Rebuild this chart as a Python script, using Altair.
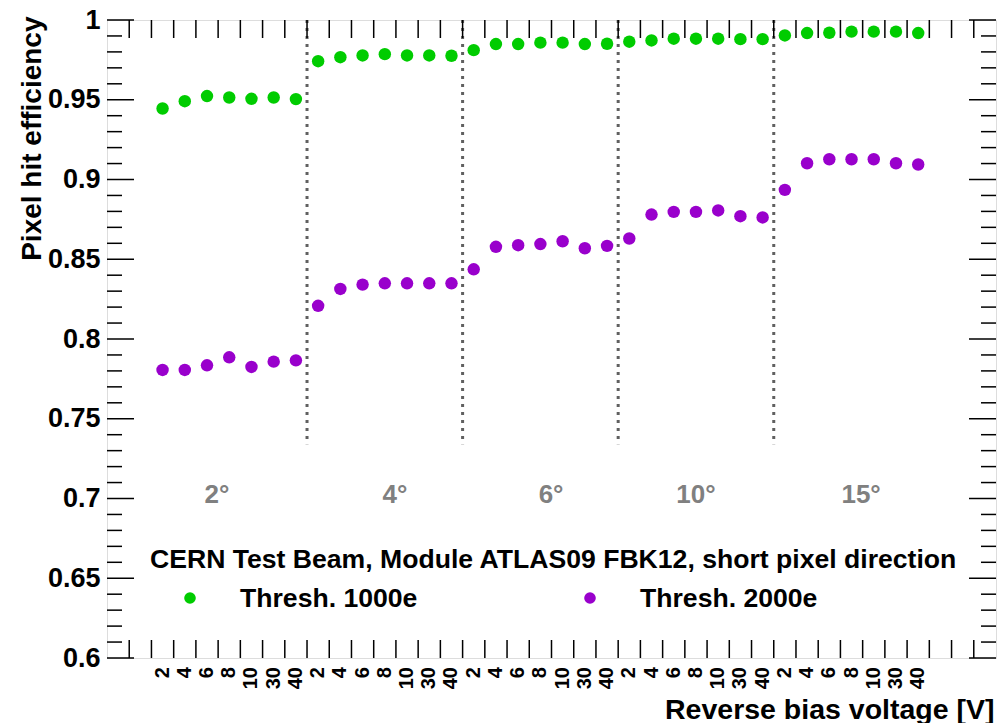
import altair as alt
import pandas as pd

# ---------------- data ----------------
angles = ["2°", "4°", "6°", "10°", "15°"]
voltages = ["2", "4", "6", "8", "10", "30", "40"]
series_names = ["Thresh. 1000e", "Thresh. 2000e"]
series_colors = ["#00cc00", "#9900cc"]

eff_1000 = [0.9445, 0.9491, 0.9523, 0.9514, 0.9506, 0.9514, 0.9504,
            0.9742, 0.9767, 0.9778, 0.9786, 0.9778, 0.9778, 0.9776,
            0.9811, 0.9849, 0.9849, 0.9858, 0.9858, 0.9849, 0.9851,
            0.9864, 0.9872, 0.9883, 0.9883, 0.9883, 0.9880, 0.9880,
            0.9903, 0.9918, 0.9920, 0.9927, 0.9927, 0.9927, 0.9918]
eff_2000 = [0.7806, 0.7806, 0.7835, 0.7885, 0.7825, 0.7858, 0.7866,
            0.8208, 0.8314, 0.8341, 0.8349, 0.8349, 0.8349, 0.8349,
            0.8437, 0.8578, 0.8588, 0.8595, 0.8613, 0.8569, 0.8584,
            0.8630, 0.8780, 0.8797, 0.8797, 0.8806, 0.8770, 0.8762,
            0.8935, 0.9102, 0.9127, 0.9127, 0.9127, 0.9102, 0.9094]

header = "CERN Test Beam, Module ATLAS09 FBK12, short pixel direction"
x_title = "Reverse bias voltage [V]"
y_title = "Pixel hit efficiency"

y_major = [0.6, 0.65, 0.7, 0.75, 0.8, 0.85, 0.9, 0.95, 1.0]
y_minor = [round(0.6 + 0.01 * i, 2) for i in range(41) if i % 5 != 0]

# ---------------- layout constants ----------------
N_BINS = 40
FIRST_BIN = 2
W, H = 889, 638
FONT = "Liberation Sans"
angle_label_x = [4.95, 12.96, 19.98, 26.5, 33.93]   # label centres, in bin units
sep_bottom = 0.734
legend_x = [83, 483]

# ---------------- tables ----------------
bins = []
for g, a in enumerate(angles):
    for v, volt in enumerate(voltages):
        bins.append({"pos": FIRST_BIN + g * len(voltages) + v + 0.5, "volt": volt, "angle": a})
bins_df = pd.DataFrame(bins)

rows = []
for i, b in enumerate(bins):
    rows.append({"pos": b["pos"], "series": series_names[0], "eff": eff_1000[i]})
    rows.append({"pos": b["pos"], "series": series_names[1], "eff": eff_2000[i]})
pts_df = pd.DataFrame(rows)

sep_df = pd.DataFrame({"b": [FIRST_BIN + k * len(voltages) for k in range(1, len(angles))],
                       "top": 1.0, "bot": sep_bottom})
ang_df = pd.DataFrame({"x": angle_label_x, "t": angles})

X = alt.Scale(domain=[0, N_BINS], nice=False, zero=False)
Y = alt.Scale(domain=[0.6, 1.0], nice=False, zero=False)
C = alt.Scale(domain=series_names, range=series_colors)

AX = alt.Axis(
    title=x_title, labels=False, ticks=False, domain=False, grid=False,
    titleFont=FONT, titleFontSize=28.5, titleFontWeight="bold", titleColor="black",
    titleAnchor="end", titleAlign="right", titleX=887, titleY=60, titleBaseline="alphabetic")
AY = alt.Axis(
    values=y_major, format="~g", ticks=False, domain=False, grid=False,
    labelFont=FONT, labelFontSize=27, labelFontWeight="bold", labelColor="black",
    labelPadding=7, labelBaseline="middle",
    title=y_title, titleFont=FONT, titleFontSize=28, titleFontWeight="bold", titleColor="black",
    titleAngle=270, titleAlign="right", titleX=-67, titleY=-4, titleBaseline="alphabetic")

# ---------------- layers ----------------
pts = alt.Chart(pts_df).mark_point(filled=True, shape="circle", size=155, opacity=1).encode(
    x=alt.X("pos:Q", scale=X, axis=AX),
    y=alt.Y("eff:Q", scale=Y, axis=AY),
    color=alt.Color("series:N", scale=C, legend=None),
)

sep = alt.Chart(sep_df).mark_rule(color="#606060", strokeWidth=3, strokeDash=[3, 5]).encode(
    x=alt.X("b:Q", scale=X, axis=AX),
    y=alt.Y("top:Q", scale=Y, axis=AY),
    y2="bot:Q",
)


def yticks(vals, x0, x1):
    return alt.Chart(pd.DataFrame({"v": vals})).mark_rule(color="black", strokeWidth=1.5).encode(
        y=alt.Y("v:Q", scale=Y, axis=AY), x=alt.value(x0), x2=alt.value(x1))


def xticks(y0, y1):
    return alt.Chart(pd.DataFrame({"b": list(range(1, N_BINS))})).mark_rule(
        color="black", strokeWidth=1.5).encode(
        x=alt.X("b:Q", scale=X, axis=AX), y=alt.value(y0), y2=alt.value(y1))


ticks = [
    yticks(y_major, 0, 27), yticks(y_minor, 0, 15),
    yticks(y_major, W - 27, W), yticks(y_minor, W - 15, W),
    xticks(0, 18), xticks(H - 18, H),
]

xlab = alt.Chart(bins_df).mark_text(
    angle=270, align="right", baseline="middle", font=FONT, fontSize=20,
    fontWeight="bold", color="black").encode(
    x=alt.X("pos:Q", scale=X, axis=AX), y=alt.value(H + 9), text="volt:N")

anglab = alt.Chart(ang_df).mark_text(
    align="center", baseline="alphabetic", font=FONT, fontSize=26,
    fontWeight="bold", color="#808080").encode(
    x=alt.X("x:Q", scale=X, axis=AX), y=alt.value(483), text="t:N")

head = alt.Chart(pd.DataFrame({"t": [header]})).mark_text(
    align="left", baseline="alphabetic", font=FONT, fontSize=26.6,
    fontWeight="bold", color="black").encode(
    x=alt.value(43), y=alt.value(548), text="t:N")

leg = []
for i, name in enumerate(series_names):
    d = pd.DataFrame({"series": [name]})
    leg.append(alt.Chart(d).mark_point(filled=True, shape="circle", size=135, opacity=1).encode(
        x=alt.value(legend_x[i]), y=alt.value(578),
        color=alt.Color("series:N", scale=C, legend=None)))
    leg.append(alt.Chart(d).mark_text(
        align="left", baseline="alphabetic", font=FONT, fontSize=26.6,
        fontWeight="bold", color="black").encode(
        x=alt.value(legend_x[i] + 50), y=alt.value(587), text="series:N"))

chart = alt.layer(sep, *ticks, pts, xlab, anglab, head, *leg).properties(
    width=W, height=H,
    padding={"left": 107, "top": 20, "right": 12, "bottom": 65},
    autosize=alt.AutoSizeParams(type="none"),
).configure_view(stroke="black", strokeWidth=2).configure(background="white")

chart.save("out.html", embed_options={"renderer": "svg", "actions": False})
